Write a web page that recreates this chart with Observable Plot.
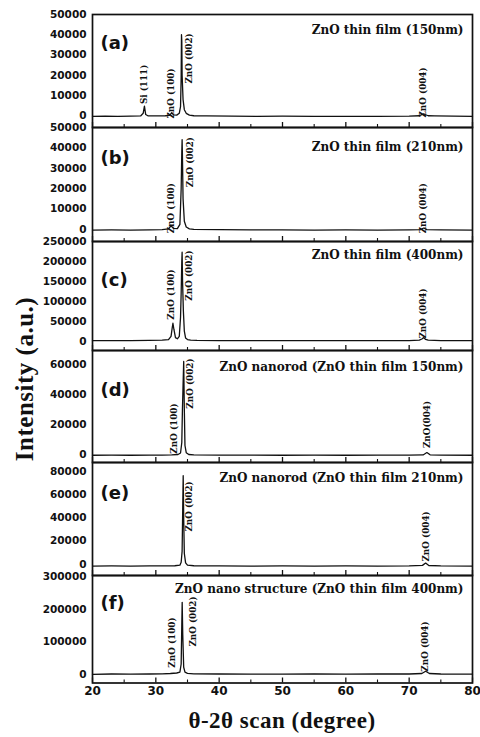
<!DOCTYPE html>
<html>
<head>
<meta charset="utf-8">
<script src="https://cdn.jsdelivr.net/npm/d3@7"></script>
<script src="https://cdn.jsdelivr.net/npm/@observablehq/plot@0.6"></script>
<style>
  html, body { margin: 0; padding: 0; background: #fff; }
  #chart { position: relative; width: 480px; height: 737px; overflow: hidden; background: #fff; }
  #chart svg { position: absolute; left: 0; }
  .ytitle { position: absolute; left: 25px; top: 379px; transform: translate(-50%, -50%) rotate(-90deg);
            font: bold 25px "Liberation Serif", serif; letter-spacing: 0.5px; white-space: nowrap; color: #111; }
  .xtitle { position: absolute; left: 282px; top: 721px; transform: translate(-50%, -50%);
            font: bold 23px "Liberation Serif", serif; letter-spacing: 0.5px; white-space: nowrap; color: #111; }
</style>
</head>
<body>
<div id="chart"></div>
<script>
// ---------- data ----------
const xMajorTicks = [20, 30, 40, 50, 60, 70, 80];
const xMinorTicks = [25, 35, 45, 55, 65, 75];

const panelLetters = ["(a)", "(b)", "(c)", "(d)", "(e)", "(f)"];
const panelTitles = [
  "ZnO thin film (150nm)",
  "ZnO thin film (210nm)",
  "ZnO thin film (400nm)",
  "ZnO nanorod (ZnO thin film 150nm)",
  "ZnO nanorod (ZnO thin film 210nm)",
  "ZnO nano structure (ZnO thin film 400nm)"
];

const yTicksA = [0, 10000, 20000, 30000, 40000, 50000];
const yTicksB = [0, 10000, 20000, 30000, 40000, 50000];
const yTicksC = [0, 50000, 100000, 150000, 200000, 250000];
const yTicksD = [0, 20000, 40000, 60000];
const yTicksE = [0, 20000, 40000, 60000, 80000];
const yTicksF = [0, 100000, 200000, 300000];

// 2theta (degree) and intensity (a.u.)
const scanA_x = [20, 22, 24, 26, 27.6, 28.0, 28.2, 28.4, 28.8, 30, 31.5, 32.2, 32.5, 32.8, 33.3, 33.7, 33.9, 34.0, 34.05, 34.1, 34.15, 34.3, 34.5, 34.8, 35.3, 36, 38, 42, 46, 50, 55, 60, 65, 70, 71.6, 72.0, 72.3, 72.6, 73.0, 74, 77, 80];
const scanA_y = [-300, -200, -300, -200, -100, 1200, 4800, 600, -100, -100, 0, 200, 1500, 400, 300, 1200, 4500, 19000, 40000, 37000, 20000, 8000, 3000, 1200, 300, 0, -100, -200, -300, -200, -300, -300, -300, -200, 0, 600, 900, 500, 0, -100, -200, -300];

const scanB_x = [20, 23, 26, 29, 31, 32.0, 32.4, 32.8, 33.4, 33.8, 34.0, 34.1, 34.15, 34.2, 34.3, 34.5, 34.8, 35.3, 36, 40, 45, 50, 55, 60, 65, 70, 71.8, 72.3, 72.8, 75, 80];
const scanB_y = [-300, -200, -300, -200, -100, 300, 1800, 500, 400, 2500, 20000, 38000, 44000, 36000, 15000, 4000, 1200, 300, 0, -100, -200, -200, -300, -200, -300, -200, -100, 700, -100, -200, -300];

const scanC_x = [20, 23, 26, 29, 31, 32.0, 32.4, 32.6, 32.7, 32.85, 33.1, 33.4, 33.7, 33.9, 34.0, 34.1, 34.15, 34.22, 34.35, 34.5, 34.7, 35, 35.5, 36.5, 40, 45, 50, 55, 60, 65, 70, 71.6, 72.0, 72.3, 72.6, 73, 75, 80];
const scanC_y = [1500, 1500, 1500, 2000, 2500, 4000, 12000, 35000, 45000, 30000, 9000, 6000, 12000, 60000, 120000, 200000, 223000, 150000, 75000, 25000, 8000, 4000, 2500, 2000, 1500, 1500, 1500, 1500, 1500, 1500, 1500, 2500, 5500, 9000, 4500, 2500, 1500, 1500];

const scanD_x = [20, 23, 26, 29, 31, 32.5, 33.5, 33.9, 34.1, 34.2, 34.3, 34.4, 34.5, 34.6, 34.8, 35.2, 36, 40, 45, 50, 55, 60, 65, 70, 72.2, 72.8, 73.3, 75, 80];
const scanD_y = [-500, -450, -500, -450, -400, -300, 0, 1000, 8000, 30000, 46000, 62000, 30000, 6000, 1200, 0, -300, -400, -450, -500, -450, -500, -450, -400, -300, 1300, -200, -400, -500];

const scanE_x = [20, 23, 26, 29, 31, 33, 33.8, 34.0, 34.15, 34.25, 34.32, 34.4, 34.5, 34.7, 35, 36, 40, 45, 50, 55, 60, 65, 70, 72.1, 72.6, 73.1, 75, 80];
const scanE_y = [-800, -700, -800, -700, -700, -500, 0, 2500, 12000, 50000, 77000, 40000, 10000, 2000, 0, -500, -700, -800, -700, -800, -700, -800, -700, -200, 1800, -300, -700, -800];

const scanF_x = [20, 23, 26, 29, 31, 32.3, 33.3, 33.8, 34.0, 34.1, 34.16, 34.25, 34.4, 34.6, 35, 36, 40, 45, 50, 55, 60, 65, 70, 72.0, 72.6, 73.2, 75, 80];
const scanF_y = [-1500, -500, -1000, -500, 0, 1000, 2500, 5000, 30000, 150000, 218000, 120000, 20000, 5000, 1500, 0, -500, -1000, -1000, -500, -1000, -500, -500, 1000, 8000, 1000, -500, -1000];

// peak annotations: label, 2theta, intensity where the label sits
const peaksA = [["Si (111)", 28.2, 15500], ["ZnO (100)", 32.43, 11000], ["ZnO (002)", 35.27, 28300], ["ZnO (004)", 72.2, 11500]];
const peaksB = [["ZnO (100)", 32.43, 10400], ["ZnO (002)", 35.36, 33000], ["ZnO (004)", 72.2, 10400]];
const peaksC = [["ZnO (100)", 32.43, 117000], ["ZnO (002)", 35.27, 164700], ["ZnO (004)", 72.2, 69500]];
const peaksD = [["ZnO (100)", 32.95, 17300], ["ZnO (002)", 35.36, 47300], ["ZnO(004)", 72.85, 20000]];
const peaksE = [["ZnO (002)", 35.27, 50500], ["ZnO (004)", 72.74, 24700]];
const peaksF = [["ZnO (100)", 32.58, 95500], ["ZnO (002)", 35.9, 159600], ["ZnO (004)", 72.58, 83300]];

// ---------- layout (pixels) ----------
const layout = [
  { top: 14,  bottom: 127,   yDomain: [-5800, 50000],   letterDy: 29, titleDy: 15.3, axisDy: 0 },
  { top: 127, bottom: 241,   yDomain: [-5900, 50000],   letterDy: 31, titleDy: 19.7, axisDy: 0 },
  { top: 241, bottom: 350,   yDomain: [-23300, 250000], letterDy: 39, titleDy: 14,   axisDy: 0 },
  { top: 350, bottom: 462,   yDomain: [-5333, 69333],   letterDy: 40, titleDy: 16.7, axisDy: 0 },
  { top: 462, bottom: 575,   yDomain: [-8900, 88300],   letterDy: 31, titleDy: 15.3, axisDy: -1 },
  { top: 575, bottom: 682.5, yDomain: [-28000, 300000], letterDy: 28, titleDy: 13.3, axisDy: 1 }
];

const scans = [
  [scanA_x, scanA_y], [scanB_x, scanB_y], [scanC_x, scanC_y],
  [scanD_x, scanD_y], [scanE_x, scanE_y], [scanF_x, scanF_y]
];
const yTicks = [yTicksA, yTicksB, yTicksC, yTicksD, yTicksE, yTicksF];
const peaks = [peaksA, peaksB, peaksC, peaksD, peaksE, peaksF];

const ink = "#111";
const chart = document.getElementById("chart");

layout.forEach((L, i) => {
  const last = i === layout.length - 1;
  const h = L.bottom - L.top;
  const mb = last ? 24 : 0;
  const [xs, ys] = scans[i];
  const pts = xs.map((x, k) => ({ x, y: ys[k] }));
  const pk = peaks[i].map(([label, x, y]) => ({ label, x, y }));

  const marks = [
    Plot.line(pts, { x: "x", y: "y", stroke: ink, strokeWidth: 1.3 }),
    Plot.tickX(xMajorTicks, { x: d => d, stroke: ink, strokeWidth: 1.3, insetTop: h - 5 }),
    Plot.tickX(xMinorTicks, { x: d => d, stroke: ink, strokeWidth: 1.1, insetTop: h - 3 }),
    Plot.frame({ stroke: ink, strokeWidth: 1.7 }),
    Plot.axisY({ ticks: yTicks[i], tickSize: 0, tickPadding: 6, tickFormat: d => String(d), dy: L.axisDy,
                 fontFamily: "DejaVu Sans", fontWeight: "bold", fontSize: 10.5, fill: ink }),
    Plot.text(pk, { x: "x", y: "y", text: "label", rotate: -90, fontSize: 8.8,
                    fontFamily: "DejaVu Serif", fontWeight: "bold", fill: ink }),
    Plot.text([panelTitles[i]], { text: d => d, frameAnchor: "top-right", textAnchor: "end", lineAnchor: "middle",
                    dx: -9, dy: L.titleDy, fontSize: 12, fontFamily: "DejaVu Serif", fontWeight: "bold", fill: ink }),
    Plot.text([panelLetters[i]], { text: d => d, frameAnchor: "top-left", textAnchor: "start", lineAnchor: "middle",
                    dx: 8, dy: L.letterDy, fontSize: 18, fontFamily: "DejaVu Sans", fontWeight: "bold", fill: ink })
  ];
  if (last) {
    marks.push(Plot.axisX({ ticks: xMajorTicks, tickSize: 0, tickPadding: 3, tickFormat: d => String(d),
                 fontFamily: "DejaVu Sans", fontWeight: "bold", fontSize: 12, fill: ink }));
  } else {
    marks.push(Plot.axisX({ ticks: [], tickSize: 0 }));
  }

  const svg = Plot.plot({
    width: 480,
    height: h + mb,
    marginLeft: 92,
    marginRight: 8,
    marginTop: 0,
    marginBottom: mb,
    x: { domain: [20, 80], label: null },
    y: { domain: L.yDomain, label: null },
    style: { overflow: "visible", background: "transparent" },
    marks
  });
  svg.style.top = L.top + "px";
  chart.appendChild(svg);
});

const yt = document.createElement("div");
yt.className = "ytitle";
yt.textContent = "Intensity (a.u.)";
chart.appendChild(yt);

const xt = document.createElement("div");
xt.className = "xtitle";
xt.textContent = "θ-2θ scan (degree)";
chart.appendChild(xt);
</script>
</body>
</html>
